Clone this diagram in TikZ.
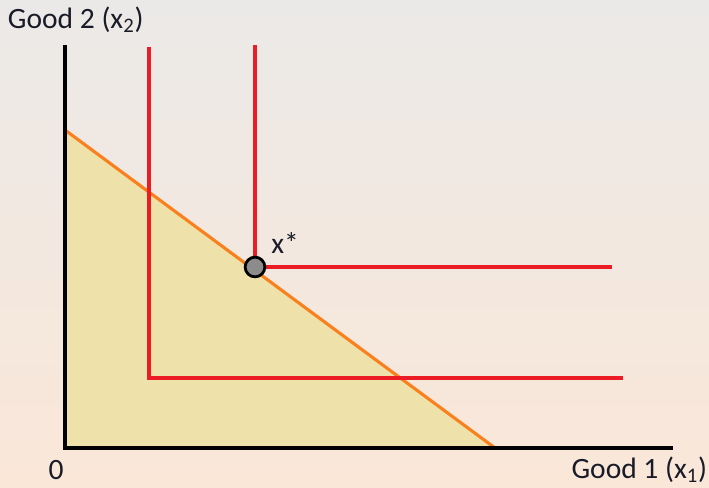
\documentclass[tikz,border=0pt]{standalone}
\usepackage{fontspec}
\setmainfont{Carlito}
\usepackage{xcolor}
\usepackage{tikz}
\usetikzlibrary{calc}
\definecolor{bgtop}{RGB}{235,233,231}
\definecolor{bgbot}{RGB}{250,231,216}
\definecolor{budget}{RGB}{238,225,170}
\definecolor{budgetline}{RGB}{250,128,30}
\definecolor{leont}{RGB}{235,28,36}
\definecolor{ink}{RGB}{25,28,40}

\begin{document}
\begin{tikzpicture}[x=0.025cm, y=-0.025cm, every node/.style={font=\fontsize{21}{25}\selectfont, text=ink}]
% ---- background
\shade[top color=bgtop, bottom color=bgbot] (0,0) rectangle (709,487);
\useasboundingbox (0,0) rectangle (709,487);
% ---- budget set
\coordinate (O) at (65,448);
\coordinate (B2) at (65,130);
\coordinate (B1) at (495,448);
\fill[budget] (O) -- (B2) -- (B1) -- cycle;
\draw[budgetline, line width=2.2pt] (B2) -- (B1);
% ---- axes
\draw[black, line width=2.4pt] (65,45) -- (O) -- (673,448);
\node[anchor=west] (ylab) at (3,20) {Good 2 (x\textsubscript{2})};
\node[anchor=east] (xlab) at (712,470) {Good 1 (x\textsubscript{1})};
\node (zero) at (56,470) {0};
% ---- indifference curves
\draw[leont, line width=2.2pt] (149,47) -- (149,378) -- (623,378);
\draw[leont, line width=2.2pt] (255,45) -- (255,267) -- (612,267);
% ---- optimum
\node[circle, draw=black, fill=gray!90, line width=2pt, minimum size=14pt, inner sep=0pt] (xstar) at (255,267) {};
\node (xlbl) at (285,243) {x*};
\end{tikzpicture}
\end{document}
